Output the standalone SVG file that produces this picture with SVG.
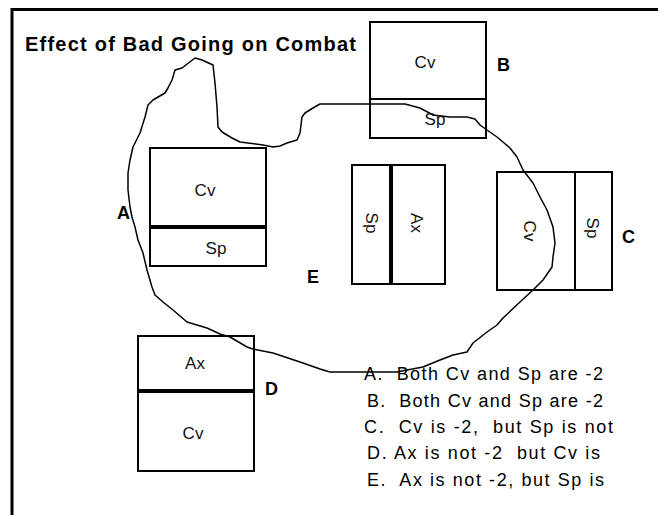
<svg xmlns="http://www.w3.org/2000/svg" width="658" height="515" viewBox="0 0 658 515">
<style>
.box{fill:none;stroke:#000;stroke-width:2}
.thin{stroke:#000;stroke-width:2}
.thick{stroke:#000;stroke-width:4}
.in{font-family:"Liberation Sans",Arial,sans-serif;font-size:17px;fill:#111;text-anchor:middle}
.lab{font-family:"Liberation Sans",Arial,sans-serif;font-size:18px;font-weight:bold;fill:#000}
.leg{font-family:"Liberation Sans",Arial,sans-serif;font-size:18px;fill:#000}
.title{font-family:"Liberation Sans",Arial,sans-serif;font-size:20px;font-weight:bold;fill:#000}
.curve{fill:none;stroke:#000;stroke-width:1.5;stroke-linejoin:round}
</style>
<rect width="658" height="515" fill="#fff"/>
<path d="M12,515 V9.5 H658" fill="none" stroke="#000" stroke-width="3"/>
<text class="title" x="25" y="51" textLength="331" lengthAdjust="spacing">Effect of Bad Going on Combat</text>

<g id="connectors">
<path class="curve" d="M195,58 L202,60 L213,65 L215,83 L217,107 L218,127 L222,132 L232,138 L240,142 L263,145 L273,147 L280,146 L287,143 L297,140 L300,133 L302,117 L305,113 L313,108 L320,104 L405,104 L420,108 L433,115 L450,117 L467,117 L475,119 L480,125 L487,130 L497,137 L510,148 L517,157 L523,170 L533,183 L540,197 L547,210 L553,227 L555,243 L553,257 L552,267 L543,280 L533,290 L520,302 L503,318 L497,325 L487,332 L473,343 L467,352 L453,355 L440,360 L423,367 L407,370 L397,372 L330,372 L320,369 L300,362 L273,353 L253,349 L247,347 L230,337 L220,334 L207,328 L187,322 L173,310 L163,302 L155,295 L152,287 L147,270 L143,253 L138,240 L135,227 L132,217 L130,207 L128,190 L128,173 L130,160 L133,147 L140,133 L145,117 L148,105 L153,100 L165,93 L168,88 L172,80 L175,70 L182,68 Z"/>
</g>

<g id="nodeA">
<rect class="box" x="150" y="148" width="116" height="118"/>
<line class="thick" x1="150" y1="227" x2="266" y2="227"/>
<text class="in" x="205" y="196">Cv</text>
<text class="in" x="216" y="254">Sp</text>
<text class="lab" x="117" y="219">A</text>
</g>

<g id="nodeB">
<rect class="box" x="370" y="22" width="116" height="116"/>
<line class="thin" x1="370" y1="99" x2="486" y2="99"/>
<text class="in" x="425" y="68">Cv</text>
<text class="in" x="435" y="125">Sp</text>
<text class="lab" x="497" y="71">B</text>
</g>

<g id="nodeE">
<rect class="box" x="352" y="165" width="93" height="119"/>
<line class="thick" x1="391" y1="165" x2="391" y2="284"/>
<text class="in" transform="translate(366,223) rotate(90)">Sp</text>
<text class="in" transform="translate(411,223) rotate(90)">Ax</text>
<text class="lab" x="307" y="283">E</text>
</g>

<g id="nodeC">
<rect class="box" x="497" y="172" width="115" height="118"/>
<line class="thin" x1="575" y1="172" x2="575" y2="290"/>
<text class="in" transform="translate(524,231) rotate(90)">Cv</text>
<text class="in" transform="translate(587,228) rotate(90)">Sp</text>
<text class="lab" x="622" y="243">C</text>
</g>

<g id="nodeD">
<rect class="box" x="138" y="336" width="116" height="135"/>
<line class="thick" x1="138" y1="391" x2="254" y2="391"/>
<text class="in" x="195" y="369">Ax</text>
<text class="in" x="193" y="439">Cv</text>
<text class="lab" x="265" y="395">D</text>
</g>

<g id="legend">
<text class="leg" x="364" y="380" textLength="239" lengthAdjust="spacing" xml:space="preserve">A.  Both Cv and Sp are -2</text>
<text class="leg" x="367" y="407" textLength="236" lengthAdjust="spacing" xml:space="preserve">B.  Both Cv and Sp are -2</text>
<text class="leg" x="364" y="433" textLength="249" lengthAdjust="spacing" xml:space="preserve">C.  Cv is -2,  but Sp is not</text>
<text class="leg" x="367" y="459" textLength="233" lengthAdjust="spacing" xml:space="preserve">D. Ax is not -2  but Cv is</text>
<text class="leg" x="367" y="486" textLength="237" lengthAdjust="spacing" xml:space="preserve">E.  Ax is not -2, but Sp is</text>
</g>
</svg>
